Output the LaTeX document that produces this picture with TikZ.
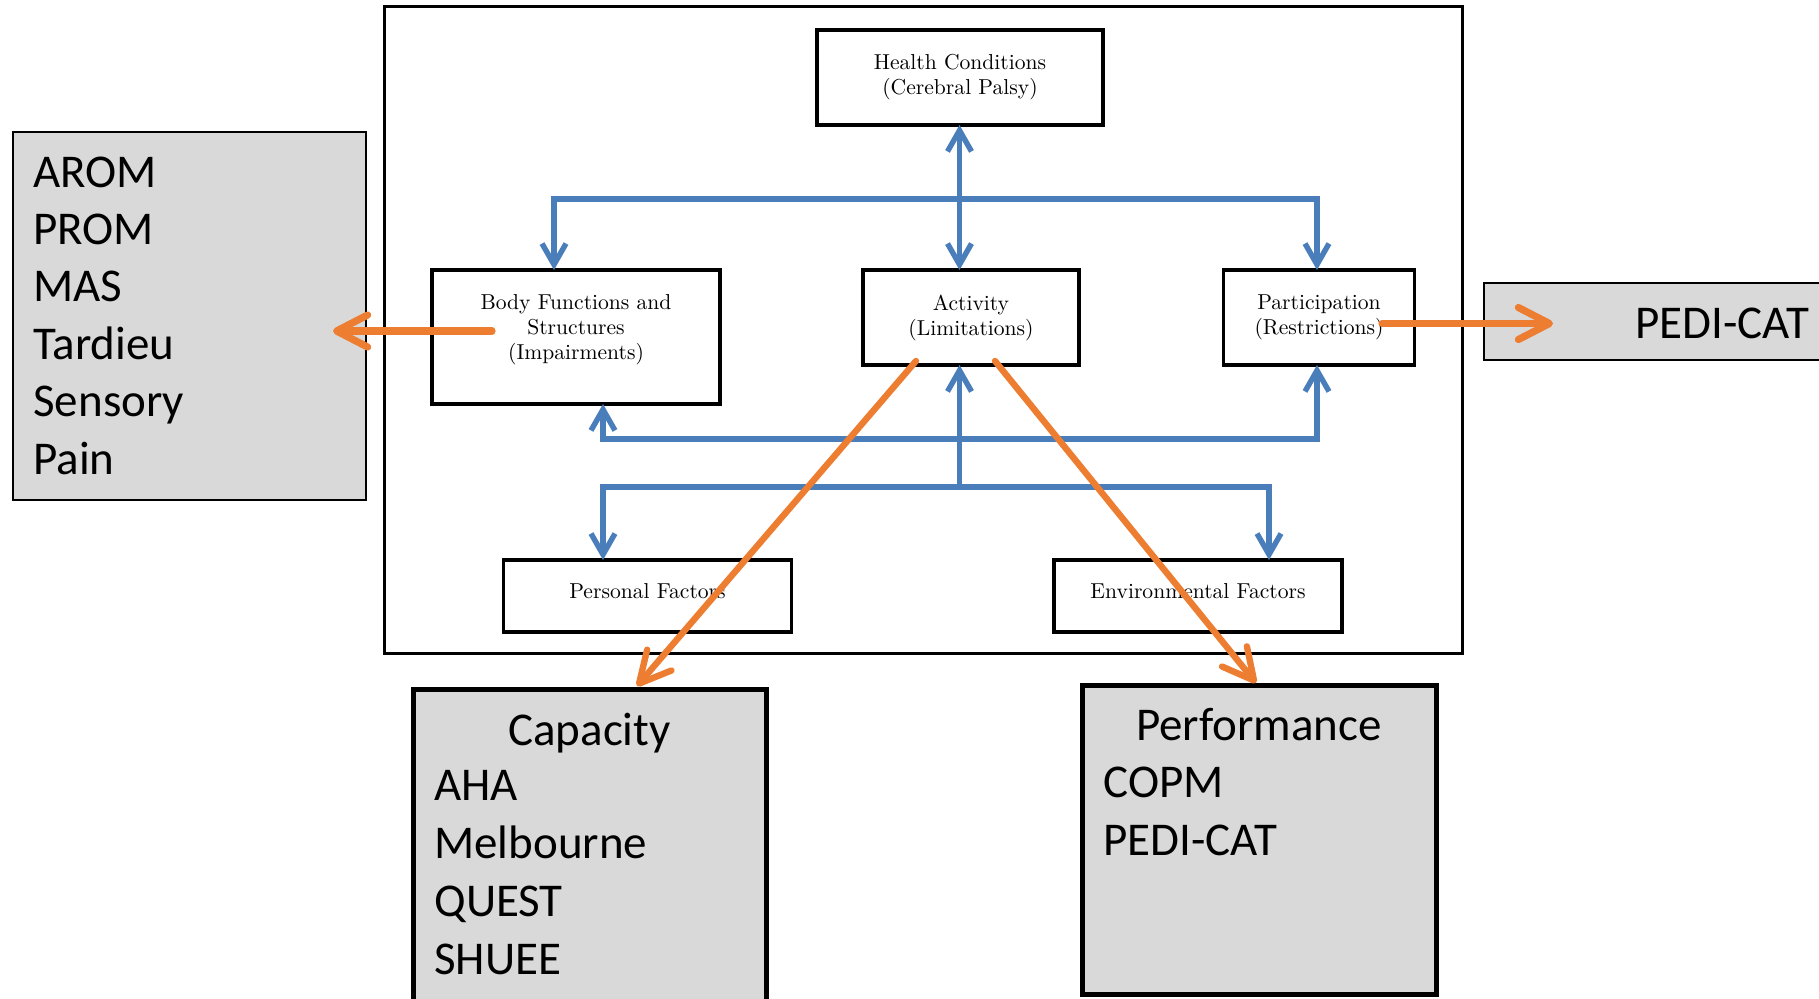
\documentclass[tikz,border=0pt]{standalone}
\usepackage{fontspec}
\newfontfamily\calib{Carlito}
\usetikzlibrary{arrows.meta}
\definecolor{icfblue}{HTML}{4A7EBB}
\definecolor{icforange}{HTML}{ED7D31}
\definecolor{boxgray}{HTML}{D9D9D9}

\begin{document}
\begin{tikzpicture}[x=0.5pt,y=-0.5pt,
  icfbox/.style={draw=black, line width=1.6pt, fill=white, inner sep=0pt, outer sep=0pt,
    align=center, font=\fontsize{10.8}{12.5}\selectfont},
  toolbox/.style={draw=black, line width=1pt, fill=boxgray, inner sep=0pt, outer sep=0pt},
  heavybox/.style={toolbox, line width=2.5pt},
  tooltext/.style={inner sep=0pt, font=\calib\fontsize{23.5}{28.7}\selectfont, align=left},
  link/.style={draw=icfblue, line width=2.7pt},
  twoway/.style={link, arrows={Straight Barb[length=10.5pt,width=12pt]-Straight Barb[length=10.5pt,width=12pt]}},
  oneway/.style={link, arrows={-Straight Barb[length=10.5pt,width=12pt]}},
  measure/.style={draw=icforange, line width=3.6pt, line cap=round,
    arrows={-Straight Barb[length=15.5pt,width=16pt,round]}},
]
\useasboundingbox (0,0) rectangle (1819,998);

% ICF frame and its components
\node[draw=black, line width=1.5pt, minimum width=539pt, minimum height=323.5pt, inner sep=0pt] (frame) at (923,329.5) {};
\node[icfbox, minimum width=143pt, minimum height=47.5pt] (health) at (960,77.5) {Health Conditions\\(Cerebral Palsy)};
\node[icfbox, minimum width=144pt, minimum height=67pt, text depth=9.7pt] (body) at (576,337) {Body Functions and\\Structures\\(Impairments)};
\node[icfbox, minimum width=108pt, minimum height=47.5pt] (activity) at (971,317.5) {Activity\\(Limitations)};
\node[icfbox, minimum width=95.5pt, minimum height=47.5pt] (participation) at (1319,317.5) {Participation\\(Restrictions)};
\node[icfbox, minimum width=144pt, minimum height=36pt, text depth=4.9pt] (personal) at (647.5,596) {Personal Factors};
\node[icfbox, minimum width=144pt, minimum height=36pt, text depth=4.9pt] (environmental) at (1198,596) {Environmental Factors};

% measurement boxes (lists anchored on the baseline of their last line)
\node[toolbox, minimum width=176.5pt, minimum height=184pt] (bodytools) at (189.5,316) {};
\node[tooltext, anchor=base west] (bodylist) at (33,474) {AROM\\PROM\\MAS\\Tardieu\\Sensory\\Pain};
\node[toolbox, minimum width=173pt, minimum height=38.5pt] (parttools) at (1657,321.5) {};
\node[tooltext, anchor=base west] (partlist) at (1635,338) {PEDI-CAT};
\node[heavybox, minimum width=176.5pt, minimum height=158pt] (capacity) at (589.5,847) {};
\node[tooltext, anchor=base] (captitle) at (589.5,745) {Capacity};
\node[tooltext, anchor=base west, font=\calib\fontsize{23.5}{29}\selectfont] (caplist) at (434,974) {AHA\\Melbourne\\QUEST\\SHUEE};
\node[heavybox, minimum width=177pt, minimum height=154.5pt] (performance) at (1259,839.5) {};
\node[tooltext, anchor=base] (perftitle) at (1259,740) {Performance};
\node[tooltext, anchor=base west, font=\calib\fontsize{23.5}{29}\selectfont] (perflist) at (1103,855) {COPM\\PEDI-CAT};

% blue ICF links
\coordinate (hc) at (959.5,199);
\draw[twoway] (health.south -| hc) -- (hc |- activity.north);
\coordinate (ub) at (554,199);
\coordinate (ue) at (1317,199);
\draw[twoway] (ub |- body.north) -- (ub) -- (ue) -- (ue |- participation.north);
\coordinate (lb) at (603,439);
\coordinate (le) at (1317,439);
\draw[twoway] (lb |- body.south) -- (lb) -- (le) -- (le |- participation.south);
\coordinate (pl) at (603,487);
\coordinate (pr) at (1269,487);
\coordinate (ac) at (959.5,487);
\draw[oneway] (ac) -- (ac |- activity.south);
\draw[twoway] (pl |- personal.north) -- (pl) -- (pr) -- (pr |- environmental.north);

% orange links to the measures
\coordinate (bodyout) at (492,331);
\coordinate (lefttip) at (333,331);
\coordinate (partout) at (1382,323.5);
\coordinate (righttip) at (1553,323.5);
\coordinate (actl) at (916,361);
\coordinate (capt) at (637,686);
\coordinate (actr) at (995,361);
\coordinate (perft) at (1256,683);
\draw[measure] (bodyout) -- (lefttip);
\draw[measure] (partout) -- (righttip);
\draw[measure, line width=3.2pt] (actl) -- (capt);
\draw[measure, line width=3.2pt] (actr) -- (perft);
\end{tikzpicture}
\end{document}
